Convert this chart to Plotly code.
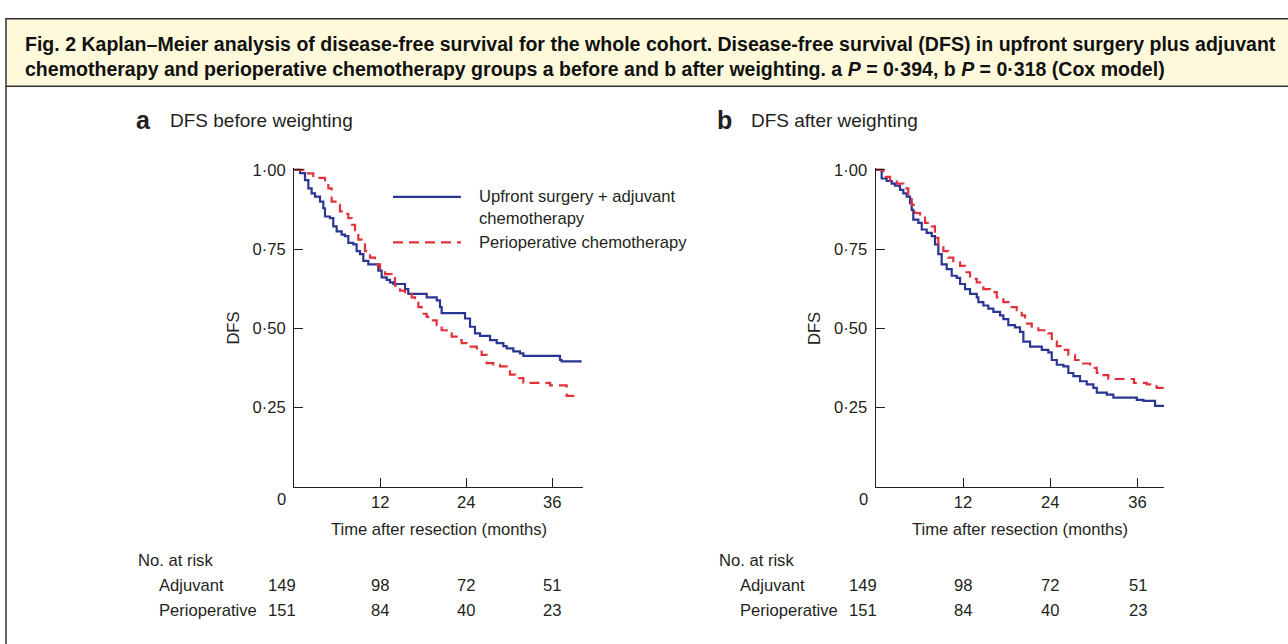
import plotly.graph_objects as go

W, H = 1288, 644

# ---------------- data ----------------
# Panel a: DFS before weighting
a_adj_t = [0, 0.8, 1.49, 1.96, 2.42, 2.89, 3.59, 4.05, 4.28, 4.98,
           5.44, 5.91, 6.61, 7.07, 7.54, 8.24, 8.70, 9.17, 9.63, 10.33,
           11.72, 12.19, 12.89, 13.35, 13.81, 15.45, 15.91, 18.47, 19.87, 20.33,
           20.56, 23.82, 24.52, 25.21, 25.91, 27.31, 28.24, 29.17, 29.63, 30.56,
           31.49, 31.96, 37.07, 37.3, 40.1]
a_adj_s = [1.0, 0.99, 0.968, 0.942, 0.926, 0.916, 0.900, 0.879, 0.853, 0.848,
           0.822, 0.806, 0.796, 0.791, 0.770, 0.765, 0.744, 0.734, 0.713, 0.702,
           0.682, 0.661, 0.653, 0.645, 0.640, 0.624, 0.609, 0.598, 0.588, 0.567,
           0.548, 0.531, 0.505, 0.484, 0.476, 0.463, 0.453, 0.444, 0.437, 0.427,
           0.421, 0.413, 0.400, 0.396, 0.396]
a_peri_t = [0, 1.26, 2.65, 4.28, 4.75, 5.21, 5.91, 6.37, 7.07, 7.54,
            8.0, 8.47, 8.93, 9.40, 9.86, 10.56, 11.26, 11.96, 12.66, 13.59,
            14.05, 14.75, 15.45, 16.38, 16.84, 17.31, 17.77, 18.47, 19.17, 19.87,
            20.56, 21.26, 21.96, 22.66, 23.35, 24.05, 25.45, 25.91, 26.14, 26.84,
            27.77, 28.70, 29.63, 30.10, 30.80, 31.96, 35.7, 38.0, 39.87]
a_peri_s = [1.0, 0.989, 0.975, 0.968, 0.942, 0.900, 0.890, 0.869, 0.861, 0.848,
            0.827, 0.801, 0.780, 0.765, 0.744, 0.723, 0.702, 0.687, 0.671, 0.659,
            0.635, 0.619, 0.609, 0.598, 0.588, 0.567, 0.546, 0.536, 0.525, 0.510,
            0.494, 0.484, 0.474, 0.463, 0.453, 0.442, 0.437, 0.432, 0.416, 0.390,
            0.385, 0.380, 0.364, 0.354, 0.343, 0.328, 0.320, 0.287, 0.287]

# Panel b: DFS after weighting
b_adj_t = [0, 0.82, 1.51, 2.2, 2.65, 3.34, 3.8, 4.26, 4.72, 4.95,
           5.17, 5.86, 6.33, 7.01, 7.7, 8.15, 8.61, 9.07, 9.76, 10.45,
           11.14, 11.6, 12.28, 12.97, 13.89, 14.11, 14.8, 15.48, 16.17, 17.09,
           17.55, 18.23, 19.15, 19.84, 20.3, 21.22, 22.83, 23.73, 24.2, 24.89,
           25.8, 26.48, 27.17, 28.09, 29.01, 29.92, 30.39, 31.76, 32.67, 35.89,
           36.8, 38.4, 39.63]
b_adj_s = [1.0, 0.973, 0.965, 0.957, 0.950, 0.937, 0.926, 0.916, 0.895, 0.874,
           0.843, 0.833, 0.812, 0.801, 0.791, 0.765, 0.734, 0.702, 0.687, 0.666,
           0.659, 0.640, 0.624, 0.609, 0.598, 0.583, 0.572, 0.562, 0.552, 0.541,
           0.529, 0.510, 0.503, 0.489, 0.458, 0.442, 0.432, 0.424, 0.400, 0.385,
           0.380, 0.359, 0.349, 0.333, 0.323, 0.312, 0.297, 0.291, 0.281, 0.274,
           0.271, 0.255, 0.255]
b_peri_t = [0, 1.05, 1.97, 2.89, 3.8, 4.48, 4.95, 5.4, 6.1, 6.78,
            7.7, 8.15, 8.61, 9.3, 9.98, 10.67, 11.6, 12.28, 12.97, 13.89,
            14.8, 15.72, 16.64, 17.55, 18.47, 19.39, 20.08, 20.53, 21.45, 22.36,
            23.73, 24.2, 24.89, 25.8, 26.48, 27.4, 28.32, 29.47, 30.39, 31.3,
            31.98, 35.5, 37.26, 38.17, 38.63, 39.63]
b_peri_s = [1.0, 0.978, 0.965, 0.957, 0.942, 0.921, 0.890, 0.864, 0.853, 0.833,
            0.822, 0.786, 0.765, 0.744, 0.723, 0.708, 0.697, 0.677, 0.656, 0.645,
            0.624, 0.614, 0.598, 0.583, 0.567, 0.557, 0.541, 0.515, 0.505, 0.494,
            0.484, 0.458, 0.444, 0.432, 0.416, 0.400, 0.389, 0.375, 0.359, 0.352,
            0.340, 0.328, 0.323, 0.317, 0.312, 0.312]

risk_times = [0, 12, 24, 36]
risk_adj = [149, 98, 72, 51]
risk_peri = [151, 84, 40, 23]
risk_rows = ["Adjuvant", "Perioperative"]

ytick_vals = [0.25, 0.50, 0.75, 1.00]
ytick_text = ["0·25", "0·50", "0·75", "1·00"]
xtick_vals = [12, 24, 36]
xtick_text = ["12", "24", "36"]

series_names = ["Upfront surgery + adjuvant<br>chemotherapy", "Perioperative chemotherapy"]
panel_letters = ["a", "b"]
panel_titles = ["DFS before weighting", "DFS after weighting"]

caption1 = ("Fig. 2 Kaplan–Meier analysis of disease-free survival for the whole cohort. "
            "Disease-free survival (DFS) in upfront surgery plus adjuvant")
caption2 = ("chemotherapy and perioperative chemotherapy groups a before and b after weighting. "
            "a <i>P</i> = 0·394, b <i>P</i> = 0·318 (Cox model)")

# ---------------- styling ----------------
FONT = "Liberation Sans, Arial, Helvetica, sans-serif"
INK = "#231F20"
BLUE = "#2B3593"
RED = "#E1313A"
LW = 2.2
DASH = "10px,6px"
FS = 16.6        # body text size
FS_TITLE = 19    # panel titles
FS_CAP = 19.55   # caption


def px(xp):
    return xp / W


def py(yp):
    return 1 - yp / H


# axis pixel geometry
ax_left = [294.3, 875.7]
ax_right = [582.7, 1164.0]
ax_xmax = [40.24, 39.63]
y_bottom, y_top = 485.0, 162.8

fig = go.Figure()

panels = [
    (a_adj_t, a_adj_s, a_peri_t, a_peri_s),
    (b_adj_t, b_adj_s, b_peri_t, b_peri_s),
]

for i, (t1, s1, t2, s2) in enumerate(panels):
    xa = "x" if i == 0 else "x2"
    ya = "y" if i == 0 else "y2"
    fig.add_trace(go.Scatter(x=t1, y=s1, mode="lines", line_shape="hv",
                             line=dict(color=BLUE, width=LW), name=series_names[0],
                             xaxis=xa, yaxis=ya, showlegend=False))
    fig.add_trace(go.Scatter(x=t2, y=s2, mode="lines", line_shape="hv",
                             line=dict(color=RED, width=LW, dash=DASH), name=series_names[1],
                             xaxis=xa, yaxis=ya, showlegend=False))

axis_common = dict(showline=True, linecolor=INK, linewidth=1.3, ticks="inside",
                   ticklen=9, tickwidth=1.3, tickcolor=INK, showgrid=False,
                   zeroline=False, tickfont=dict(family=FONT, size=FS, color=INK),
                   fixedrange=True)

layout_axes = {}
for i in range(2):
    sx = "" if i == 0 else "2"
    layout_axes["xaxis" + sx] = dict(
        axis_common, domain=[px(ax_left[i]), px(ax_right[i])], range=[0, ax_xmax[i]],
        tickvals=xtick_vals, ticktext=xtick_text, anchor="y" + sx)
    layout_axes["yaxis" + sx] = dict(
        axis_common, domain=[py(y_bottom), py(y_top)], range=[0, 1.006],
        tickvals=ytick_vals, ticktext=ytick_text, anchor="x" + sx,
        ticklabelstandoff=4)

annotations = []
shapes = []

# caption box and frame
shapes.append(dict(type="rect", xref="paper", yref="paper", x0=px(6), x1=px(1292),
                   y0=py(80), y1=py(12), fillcolor="#FEF9DB",
                   line=dict(color="#333333", width=1.5), layer="below"))
shapes.append(dict(type="line", xref="paper", yref="paper", x0=px(6), x1=px(6),
                   y0=py(80), y1=py(650), line=dict(color="#333333", width=1.5)))

annotations.append(dict(text="<b>" + caption1 + "</b>", xref="paper", yref="paper",
                        x=px(23), y=py(37), xanchor="left", yanchor="middle",
                        showarrow=False, font=dict(family=FONT, size=FS_CAP, color="#111111")))
annotations.append(dict(text="<b>" + caption2 + "</b>", xref="paper", yref="paper",
                        x=px(23), y=py(63), xanchor="left", yanchor="middle",
                        showarrow=False, font=dict(family=FONT, size=FS_CAP, color="#111111")))

for i in range(2):
    sx = "" if i == 0 else "2"
    off = ax_left[i] - ax_left[0]
    # panel letter and title
    annotations.append(dict(text="<b>" + panel_letters[i] + "</b>", xref="paper", yref="paper",
                            x=px(143 + off), y=py(114), xanchor="center", yanchor="middle",
                            showarrow=False, font=dict(family=FONT, size=25, color=INK)))
    annotations.append(dict(text=panel_titles[i], xref="paper", yref="paper",
                            x=px(168 + off), y=py(115), xanchor="left", yanchor="middle",
                            showarrow=False, font=dict(family=FONT, size=FS_TITLE, color=INK)))
    # axis titles
    annotations.append(dict(text="DFS", xref="paper", yref="paper", textangle=-90,
                            x=px(ax_left[i] - 61), y=py((y_bottom + 164.7) / 2),
                            xanchor="center", yanchor="middle", showarrow=False,
                            font=dict(family=FONT, size=FS, color=INK)))
    annotations.append(dict(text="Time after resection (months)", xref="paper", yref="paper",
                            x=px((ax_left[i] + ax_right[i]) / 2), y=py(528),
                            xanchor="center", yanchor="middle", showarrow=False,
                            font=dict(family=FONT, size=FS, color=INK)))
    # origin label
    annotations.append(dict(text="0", xref="x" + sx, yref="paper", x=0, xshift=-12.6,
                            y=py(498), xanchor="center", yanchor="middle", showarrow=False,
                            font=dict(family=FONT, size=FS, color=INK)))
    # number at risk
    annotations.append(dict(text="No. at risk", xref="paper", yref="paper",
                            x=px(136 + off), y=py(560), xanchor="left", yanchor="middle",
                            showarrow=False, font=dict(family=FONT, size=FS, color=INK)))
    for r, (lab, vals, yy) in enumerate(zip(risk_rows, [risk_adj, risk_peri], [585, 610])):
        annotations.append(dict(text=lab, xref="paper", yref="paper",
                                x=px(157 + off), y=py(yy), xanchor="left", yanchor="middle",
                                showarrow=False, font=dict(family=FONT, size=FS, color=INK)))
        for tt, v in zip(risk_times, vals):
            annotations.append(dict(text=str(v), xref="x" + sx, yref="paper", x=tt,
                                    xshift=-12.6 if tt == 0 else 0,
                                    y=py(yy), xanchor="center", yanchor="middle",
                                    showarrow=False,
                                    font=dict(family=FONT, size=FS, color=INK)))

# legend (panel a)
shapes.append(dict(type="line", xref="paper", yref="paper", x0=px(393), x1=px(461),
                   y0=py(192), y1=py(192), line=dict(color=BLUE, width=LW)))
shapes.append(dict(type="line", xref="paper", yref="paper", x0=px(393), x1=px(461),
                   y0=py(238), y1=py(238), line=dict(color=RED, width=LW, dash=DASH)))
annotations.append(dict(text=series_names[0], xref="paper", yref="paper",
                        x=px(477), y=py(202.5), xanchor="left", yanchor="middle", align="left",
                        showarrow=False, font=dict(family=FONT, size=FS, color=INK)))
annotations.append(dict(text=series_names[1], xref="paper", yref="paper",
                        x=px(477), y=py(238), xanchor="left", yanchor="middle", align="left",
                        showarrow=False, font=dict(family=FONT, size=FS, color=INK)))

fig.update_layout(
    width=W, height=H, margin=dict(l=0, r=0, t=0, b=0),
    paper_bgcolor="white", plot_bgcolor="white",
    font=dict(family=FONT, size=FS, color=INK),
    showlegend=False, annotations=annotations, shapes=shapes,
    **layout_axes,
)

fig.write_html("out.html", config={"displayModeBar": False},
               post_script="document.body.style.margin='0px';"
                           "document.body.style.padding='0px';"
                           "document.body.style.overflow='hidden';"
                           "var gd=document.getElementById('{plot_id}');"
                           "gd.style.position='absolute';gd.style.top='0px';gd.style.left='0px';")
